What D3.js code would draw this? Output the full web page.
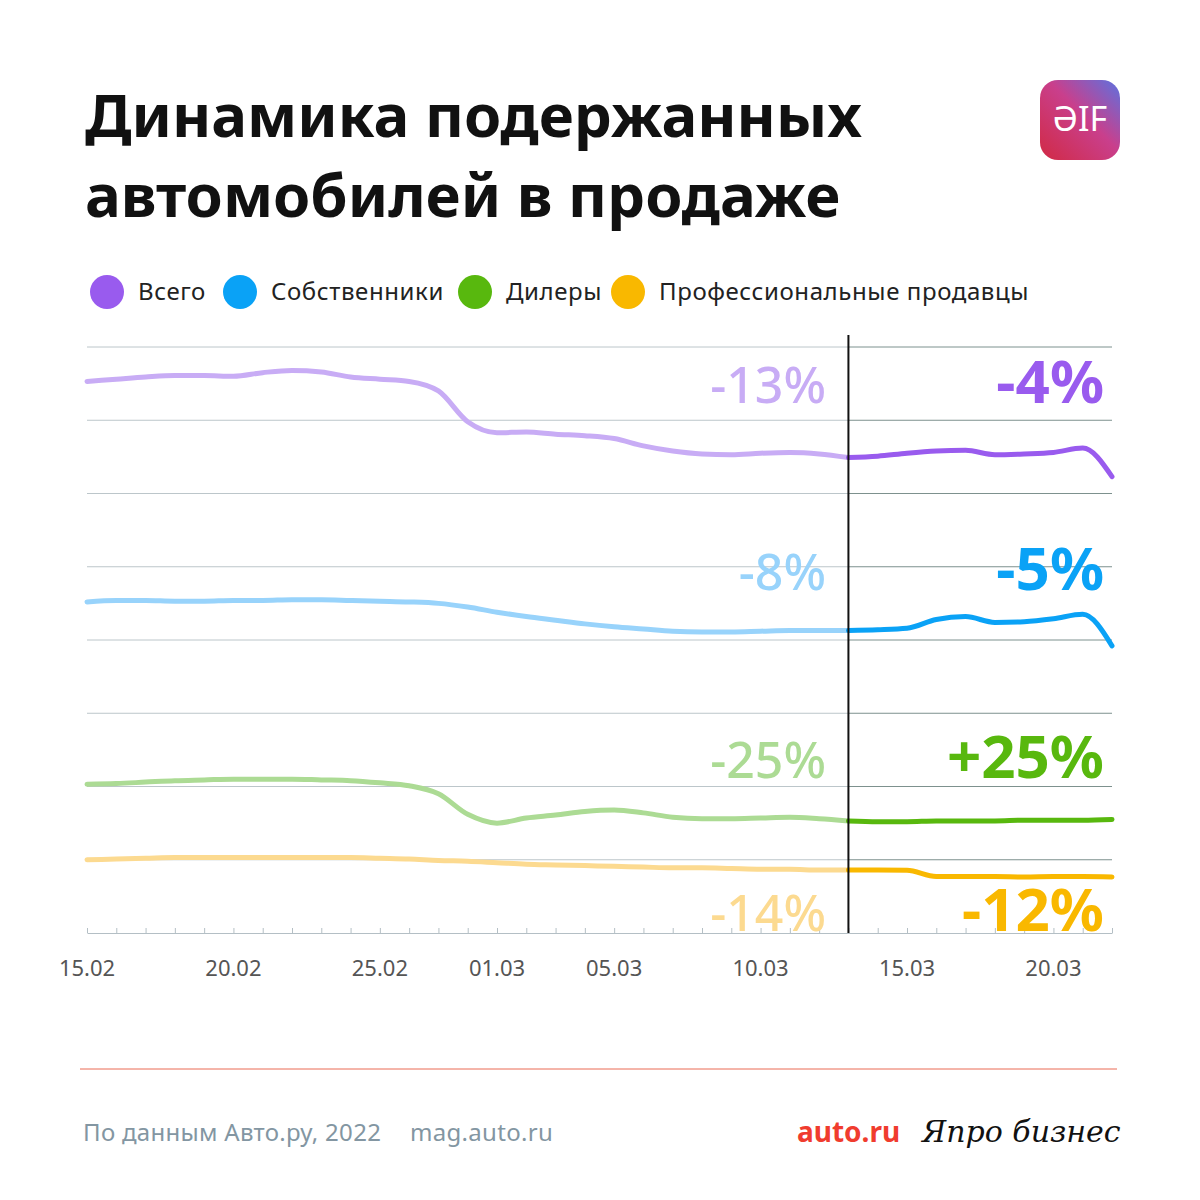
<!DOCTYPE html>
<html>
<head>
<meta charset="utf-8">
<script src="https://cdn.jsdelivr.net/npm/d3@7"></script>
<style>
  body { margin: 0; background: #fff; }
  text { font-family: "Noto Sans", "Open Sans", sans-serif; }
</style>
</head>
<body>
<div id="chart"></div>
<script>
// data (gridline units, 8 = top line)
var startDate = "2022-02-15";
var endDate = "2022-03-22";
var splitDate = "2022-03-13";
var tickLabels = ["15.02", "20.02", "25.02", "01.03", "05.03", "10.03", "15.03", "20.03"];
var tickDates = ["2022-02-15", "2022-02-20", "2022-02-25", "2022-03-01", "2022-03-05", "2022-03-10", "2022-03-15", "2022-03-20"];

var seriesNames = ["Всего", "Собственники", "Дилеры", "Профессиональные продавцы"];
var colorsDark = ["#995bee", "#0aa2f6", "#58b80e", "#f9b800"];
var colorsLight = ["#c8acf5", "#98d3fb", "#acdb94", "#fcda90"];
var labelsBefore = ["-13%", "-8%", "-25%", "-14%"];
var labelsAfter = ["-4%", "-5%", "+25%", "-12%"];

var total = [7.53, 7.56, 7.59, 7.61, 7.61, 7.60, 7.65, 7.68, 7.66, 7.59, 7.56, 7.53, 7.40, 6.98, 6.83, 6.84,
             6.81, 6.79, 6.75, 6.65, 6.58, 6.54, 6.53, 6.55, 6.56, 6.54, 6.49, 6.51, 6.55, 6.58, 6.59, 6.53,
             6.54, 6.56, 6.62, 6.23];
var owners = [4.52, 4.54, 4.54, 4.53, 4.53, 4.54, 4.54, 4.55, 4.55, 4.54, 4.53, 4.52, 4.50, 4.45, 4.38, 4.32,
              4.27, 4.22, 4.18, 4.15, 4.12, 4.11, 4.11, 4.12, 4.13, 4.13, 4.13, 4.14, 4.16, 4.28, 4.32, 4.24,
              4.25, 4.29, 4.35, 3.92];
var dealers = [2.03, 2.04, 2.06, 2.08, 2.09, 2.10, 2.10, 2.10, 2.09, 2.08, 2.05, 2.01, 1.90, 1.62, 1.50, 1.57,
               1.61, 1.66, 1.68, 1.64, 1.58, 1.56, 1.56, 1.57, 1.58, 1.56, 1.53, 1.52, 1.52, 1.53, 1.53, 1.53,
               1.54, 1.54, 1.54, 1.55];
var pros = [1.00, 1.01, 1.02, 1.03, 1.03, 1.03, 1.03, 1.03, 1.03, 1.03, 1.02, 1.01, 0.99, 0.98, 0.96, 0.94,
            0.93, 0.92, 0.91, 0.90, 0.89, 0.89, 0.88, 0.87, 0.87, 0.86, 0.86, 0.86, 0.855, 0.77, 0.77, 0.77,
            0.765, 0.77, 0.77, 0.765];

var WIDTH = 1200;
var HEIGHT = 1200;
var PLOT = {left: 87, right: 1112, top: 347, bottom: 933};

var parse = d3.timeParse("%Y-%m-%d");
var days = d3.timeDay.range(parse(startDate), d3.timeDay.offset(parse(endDate), 1));
var split = parse(splitDate);

var svg = d3.select("#chart").append("svg")
    .attr("width", WIDTH)
    .attr("height", HEIGHT);

// title
var title = svg.append("text")
    .style("font-size", "60px")
    .style("font-weight", 700)
    .style("fill", "#111");
title.append("tspan").attr("x", 85).attr("y", 137).text("Динамика подержанных");
title.append("tspan").attr("x", 85).attr("y", 217).text("автомобилей в продаже");

// logo
var grad = svg.append("defs").append("linearGradient")
    .attr("id", "logoGrad")
    .attr("x1", "0%").attr("y1", "100%")
    .attr("x2", "100%").attr("y2", "0%");
grad.append("stop").attr("offset", "0%").attr("stop-color", "#d12a44");
grad.append("stop").attr("offset", "55%").attr("stop-color", "#c93f8c");
grad.append("stop").attr("offset", "100%").attr("stop-color", "#5c72e0");
svg.append("rect")
    .attr("x", 1040).attr("y", 80)
    .attr("width", 80).attr("height", 80)
    .attr("rx", 18)
    .style("fill", "url(#logoGrad)");
svg.append("text")
    .attr("x", 1080).attr("y", 131)
    .attr("text-anchor", "middle")
    .style("font-size", "34px")
    .style("fill", "#fff")
    .text("ƏIF");

// legend
var legendX = [107, 240, 475, 628];
var legend = svg.append("g").selectAll("g")
    .data(seriesNames)
    .enter().append("g")
    .attr("transform", function(d, i) { return "translate(" + legendX[i] + ",292)"; });
legend.append("circle")
    .attr("r", 17)
    .style("fill", function(d, i) { return colorsDark[i]; });
legend.append("text")
    .attr("x", 31)
    .attr("y", 8)
    .style("font-size", "24px")
    .style("letter-spacing", "0.6px")
    .style("fill", "#222")
    .text(function(d) { return d; });

var xScale = d3.scaleTime()
    .domain([parse(startDate), parse(endDate)])
    .range([PLOT.left, PLOT.right]);
var yScale = d3.scaleLinear()
    .domain([0, 8])
    .range([PLOT.bottom, PLOT.top]);

// gridlines, lighter before the split line, darker after it
var gridVals = d3.range(1, 9);
var grid = svg.append("g");
grid.selectAll("line.before")
    .data(gridVals)
    .enter().append("line")
    .attr("class", "before")
    .attr("x1", PLOT.left).attr("x2", xScale(split))
    .attr("y1", function(d) { return yScale(d); })
    .attr("y2", function(d) { return yScale(d); })
    .style("stroke", "#bcc6ca")
    .style("stroke-width", 1);
grid.selectAll("line.after")
    .data(gridVals)
    .enter().append("line")
    .attr("class", "after")
    .attr("x1", xScale(split)).attr("x2", PLOT.right)
    .attr("y1", function(d) { return yScale(d); })
    .attr("y2", function(d) { return yScale(d); })
    .style("stroke", "#7d918e")
    .style("stroke-width", 1);

// x axis with a small tick per day
var xAxis = d3.axisBottom(xScale)
    .ticks(d3.timeDay.every(1))
    .tickSizeInner(-5)
    .tickSizeOuter(0)
    .tickFormat("");
var xg = svg.append("g")
    .attr("transform", "translate(0," + PLOT.bottom + ")")
    .call(xAxis);
xg.select(".domain").style("stroke", "#b4bfc5");
xg.selectAll(".tick line").style("stroke", "#b4bfc5");

svg.append("g").selectAll("text")
    .data(tickLabels)
    .enter().append("text")
    .attr("x", function(d, i) { return xScale(parse(tickDates[i])); })
    .attr("y", 976)
    .attr("text-anchor", "middle")
    .style("font-size", "22px")
    .style("fill", "#555")
    .text(function(d) { return d; });

// clip for the big labels
svg.append("defs").append("clipPath")
    .attr("id", "plotClip")
    .append("rect")
    .attr("x", 0).attr("y", 330)
    .attr("width", WIDTH).attr("height", PLOT.bottom - 330);

var allSeries = [total, owners, dealers, pros];
var splitIdx = days.findIndex(function(d) { return +d === +split; });

var line = d3.line()
    .x(function(d) { return xScale(d.date); })
    .y(function(d) { return yScale(d.v); })
    .curve(d3.curveMonotoneX);

var labelY = [403, 590, 778, 931];
var labels = svg.append("g").attr("clip-path", "url(#plotClip)");

allSeries.forEach(function(vals, i) {
    var pts = vals.map(function(v, j) { return {date: days[j], v: v}; });
    svg.append("path")
        .datum(pts.slice(0, splitIdx + 1))
        .attr("d", line)
        .style("fill", "none")
        .style("stroke", colorsLight[i])
        .style("stroke-width", 5)
        .style("stroke-linecap", "round");
    svg.append("path")
        .datum(pts.slice(splitIdx))
        .attr("d", line)
        .style("fill", "none")
        .style("stroke", colorsDark[i])
        .style("stroke-width", 5)
        .style("stroke-linecap", "round");

    labels.append("text")
        .attr("x", 826).attr("y", labelY[i])
        .attr("text-anchor", "end")
        .style("font-size", "50px")
        .style("font-weight", 500)
        .style("fill", colorsLight[i])
        .text(labelsBefore[i]);
    labels.append("text")
        .attr("x", 1104).attr("y", labelY[i])
        .attr("text-anchor", "end")
        .style("font-size", "60px")
        .style("font-weight", 700)
        .style("fill", colorsDark[i])
        .text(labelsAfter[i]);
});

// split line
svg.append("line")
    .attr("x1", xScale(split)).attr("x2", xScale(split))
    .attr("y1", 335).attr("y2", PLOT.bottom)
    .style("stroke", "#111")
    .style("stroke-width", 2);

// footer
svg.append("line")
    .attr("x1", 80).attr("x2", 1117)
    .attr("y1", 1069).attr("y2", 1069)
    .style("stroke", "#ea6a55")
    .style("stroke-width", 1);
svg.append("text")
    .attr("x", 83).attr("y", 1141)
    .style("font-size", "24px")
    .style("letter-spacing", "0.3px")
    .style("fill", "#8396a2")
    .text("По данным Авто.ру, 2022");
svg.append("text")
    .attr("x", 410).attr("y", 1141)
    .style("font-size", "24px")
    .style("letter-spacing", "0.3px")
    .style("fill", "#8396a2")
    .text("mag.auto.ru");
svg.append("text")
    .attr("x", 797).attr("y", 1142)
    .style("font-size", "28px")
    .style("font-weight", 700)
    .style("fill", "#f03c2e")
    .text("auto.ru");
svg.append("text")
    .attr("x", 922).attr("y", 1142)
    .style("font-size", "30px")
    .style("font-style", "italic")
    .style("font-family", "\"DejaVu Serif\", serif")
    .style("fill", "#111")
    .text("Япро бизнес");
</script>
</body>
</html>
